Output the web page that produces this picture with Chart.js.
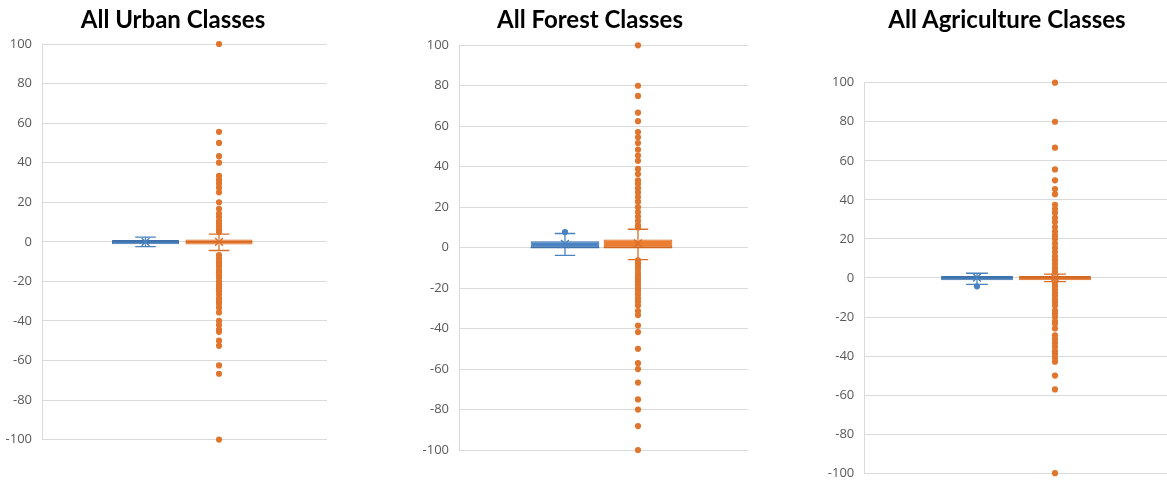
<!DOCTYPE html>
<html>
<head>
<meta charset="utf-8">
<script src="https://cdn.jsdelivr.net/npm/chart.js@4.4.1/dist/chart.umd.min.js"></script>
<style>
  html, body { margin: 0; padding: 0; background: #fff; width: 1167px; height: 491px; overflow: hidden; position: relative; }
  canvas { position: absolute; top: 0; }
  .panel-title { position: absolute; top: 7px; width: 400px; text-align: center; white-space: nowrap;
                 font: bold 24px/24px Lato, "Open Sans", sans-serif; color: #000; }
</style>
</head>
<body>
<canvas id="urban"></canvas>
<canvas id="forest"></canvas>
<canvas id="agri"></canvas>
<script>
// ---- data ----
const panelTitles = ['All Urban Classes', 'All Forest Classes', 'All Agriculture Classes'];
const yTickValues = [-100, -80, -60, -40, -20, 0, 20, 40, 60, 80, 100];
const seriesSlots = [1, 2];  // x position of the two boxes in each panel

// box summaries: [min whisker, Q1, median, Q3, max whisker, mean]
const urbanBlueStats    = [-2.4, -1.2, 0, 0.9, 2.4, 0];
const urbanOrangeStats  = [-4.4, -1.4, 0, 1.2, 3.9, 0];
const forestBlueStats   = [-3.8, 0, 0, 3.2, 7.0, 1.8];
const forestOrangeStats = [-5.9, 0, 0, 4.0, 9.1, 2.1];
const agriBlueStats     = [-3.3, -1.2, 0, 1.0, 2.4, 0.2];
const agriOrangeStats   = [-1.9, -1.2, 0, 1.0, 2.0, 0];

// points beyond the whiskers
const urbanBlueOutliers = [];
const urbanOrangeOutliers = [100, 55.6, 50, 43.3, 40, 33.3, 31.3, 29.4, 27.3, 25, 20, 16.7, 14.3, 12.5,
  10.5, 9.1, 7.7, 6.3, 5, -6.7, -8.3, -10, -11.1, -12.5, -14.3, -15.4, -16.7, -18.2, -20, -21.4, -22.2,
  -23.5, -25, -26.7, -28.6, -30, -31.3, -33.3, -35.7, -40, -42.1, -44.4, -45.5, -50, -52.6, -62.5, -66.7, -100];
const forestBlueOutliers = [7.7];
const forestOrangeOutliers = [100, 80, 75, 66.7, 62.5, 57.1, 54.5, 51.7, 48.4, 45.5, 42.9, 38.9, 36.4,
  33.3, 31.6, 29.4, 27.3, 25, 22.7, 20, 17.6, 15.4, 13.3, 11.1, 10, -6.3, -7.7, -9.1, -10.5, -12.5, -14.3,
  -15.4, -16.7, -18.2, -20, -21.4, -23.1, -25, -26.7, -28.6, -31.3, -33.3, -38.5, -41.7, -50, -57.1, -60,
  -66.7, -75, -80, -88.2, -100];
const agriBlueOutliers = [-4.3];
const agriOrangeOutliers = [100, 80, 66.7, 55.6, 50, 45.5, 42.9, 37.5, 35.3, 33.3, 30.8, 28.6, 26.1,
  23.8, 21.7, 20, 17.6, 15.4, 13.3, 11.1, 9.1, 7.1, 5, 3.2, -2.6, -4.2, -5.9, -7.7, -9.1, -11.1, -12.5,
  -14.3, -16.7, -18.2, -20, -22.2, -23.5, -25.9, -29.4, -31.3, -33.3, -35.3, -37.5, -38.9, -40.9, -42.9,
  -50, -57.1, -100];

// ---- styling / placement ----
const blueStyle   = { fill: '#4A84C4', edge: '#3D6FA8', line: '#4A82C0', dot: '#4A82C0' };
const orangeStyle = { fill: '#ED7D31', edge: '#D0661F', line: '#D96F28', dot: '#E0762E' };

const panelPlacement = [
  { id: 'urban',  left: 0,   width: 346, titleX: 173,  padR: 19, padT: 44,   padB: 51.4, axisW: 42,   xMin: -0.408, xMax: 3.469, boxFrac: 0.91 },
  { id: 'forest', left: 390, width: 400, titleX: 590,  padR: 42, padT: 45.3, padB: 41,   axisW: 69,   xMin: -0.452, xMax: 3.507, boxFrac: 0.94 },
  { id: 'agri',   left: 780, width: 388, titleX: 1007, padR: 0,  padT: 82.7, padB: 10,   axisW: 84.3, xMin: -0.445, xMax: 3.449, boxFrac: 0.92 }
];

const panelSeries = [
  [[urbanBlueStats, urbanBlueOutliers], [urbanOrangeStats, urbanOrangeOutliers]],
  [[forestBlueStats, forestBlueOutliers], [forestOrangeStats, forestOrangeOutliers]],
  [[agriBlueStats, agriBlueOutliers], [agriOrangeStats, agriOrangeOutliers]]
];

const CAP = 0.14;  // half width of whisker caps, in x units

function boxDatasets(stats, outliers, x, style, halfBox, boxFrac) {
  const [mn, q1, med, q3, mx, mean] = stats;
  const line = { type: 'line', borderColor: style.line, borderWidth: 1.3, pointRadius: 0,
                 fill: false, spanGaps: false, tension: 0 };
  return [
    { type: 'bar', order: 5, grouped: false, data: [{ x: x, y: [q1, q3] }],
      backgroundColor: style.fill, borderColor: style.edge, borderWidth: 1, borderSkipped: false,
      categoryPercentage: 1, barPercentage: boxFrac },
    Object.assign({}, line, { order: 4, borderColor: style.edge,
      data: [{ x: x - halfBox, y: med }, { x: x + halfBox, y: med }] }),
    Object.assign({}, line, { order: 3, clip: false, data: [
      { x: x, y: mx }, { x: x, y: q3 }, { x: x, y: null },
      { x: x, y: q1 }, { x: x, y: mn }, { x: x, y: null },
      { x: x - CAP, y: mx }, { x: x + CAP, y: mx }, { x: x, y: null },
      { x: x - CAP, y: mn }, { x: x + CAP, y: mn }] }),
    { type: 'line', order: 2, showLine: false, clip: false,
      data: outliers.map(v => ({ x: x, y: v })),
      pointRadius: 3.1, pointBackgroundColor: style.dot, pointBorderWidth: 0, pointBorderColor: style.dot },
    { type: 'line', order: 1, showLine: false, clip: false,
      data: [{ x: x, y: mean }],
      pointStyle: 'crossRot', pointRadius: 5.5, pointBorderColor: style.line, pointBorderWidth: 1.4,
      pointBackgroundColor: 'transparent' }
  ];
}

Chart.defaults.font.family = '"Open Sans", "DejaVu Sans", sans-serif';
Chart.defaults.animation = false;

panelPlacement.forEach((p, i) => {
  const t = document.createElement('div');
  t.className = 'panel-title';
  t.textContent = panelTitles[i];
  t.style.left = (p.titleX - 200) + 'px';
  document.body.appendChild(t);

  const cv = document.getElementById(p.id);
  cv.width = p.width; cv.height = 491;
  cv.style.left = p.left + 'px';
  cv.style.width = p.width + 'px'; cv.style.height = '491px';

  const styles = [blueStyle, orangeStyle];
  let datasets = [];
  panelSeries[i].forEach((s, k) => {
    datasets = datasets.concat(boxDatasets(s[0], s[1], seriesSlots[k], styles[k], p.boxFrac / 2, p.boxFrac));
  });

  new Chart(cv, {
    data: { datasets },
    options: {
      responsive: false,
      maintainAspectRatio: false,
      events: [],
      layout: { autoPadding: false, padding: { left: 0, right: p.padR, top: p.padT, bottom: p.padB } },
      plugins: { legend: { display: false }, tooltip: { enabled: false }, title: { display: false } },
      scales: {
        x: { type: 'linear', display: false, offset: false, min: p.xMin, max: p.xMax,
             ticks: { stepSize: 1, includeBounds: false }, grid: { display: false } },
        y: {
          type: 'linear', min: -100, max: 100,
          afterBuildTicks: s => { s.ticks = yTickValues.map(v => ({ value: v })); },
          afterFit: s => { s.width = p.axisW; },
          grid: { color: '#DADADA', lineWidth: 1, drawTicks: false },
          border: { display: true, color: '#DADADA', width: 1 },
          ticks: { color: '#595959', padding: 10, font: { size: 13 } }
        }
      }
    }
  });
});
</script>
</body>
</html>
